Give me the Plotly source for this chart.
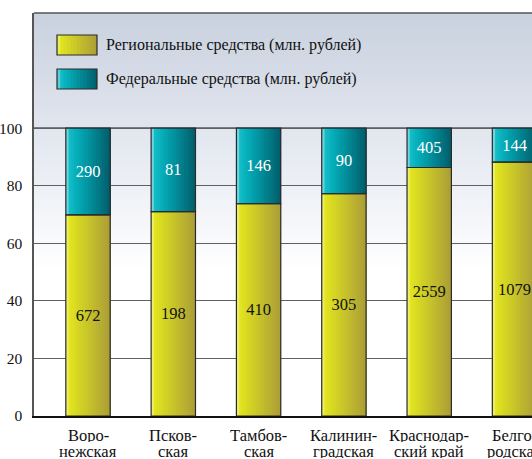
import numpy as np
import plotly.graph_objects as go
from plotly.colors import sample_colorscale

# data
regions = [("Воро-", "нежская"), ("Псков-", "ская"), ("Тамбов-", "ская"),
           ("Калинин-", "градская"), ("Краснодар-", "ский край"), ("Белго-", "родская")]
regional = [672, 198, 410, 305, 2559, 1079]
federal = [290, 81, 146, 90, 405, 144]
y_ticks = [0, 20, 40, 60, 80, 100]
legend_names = ["Региональные средства (млн. рублей)",
                "Федеральные средства (млн. рублей)"]

SERIF = "Liberation Serif"
W = 0.52          # bar width (category units)
N = 16            # gradient strips per bar
PLOT_L, PLOT_T, PLOT_B = 34, 13, 43
FIG_W, FIG_H = 532, 459

reg_scale = [[0.0, "#f2f4a0"], [0.07, "#e4e61e"], [0.3, "#d4d424"], [1.0, "#ab9d38"]]
fed_scale = [[0.0, "#b2e6f0"], [0.07, "#14bec9"], [0.3, "#03a9b5"], [1.0, "#025d6b"]]
bg_scale = [[0.0, "#ffffff"], [0.3, "#eef1f6"], [0.55, "#e1e5ee"], [1.0, "#c8d1de"]]

reg = np.array(regional, dtype=float)
fed = np.array(federal, dtype=float)
total = reg + fed
reg_pct = reg / total * 100
fed_pct = fed / total * 100
xs = np.arange(len(regions))


def px_to_paper(px, py):
    pw = FIG_W - PLOT_L
    ph = FIG_H - PLOT_T - PLOT_B
    return (px - PLOT_L) / pw, (FIG_H - PLOT_B - py) / ph


fig = go.Figure()

# gradient-looking bars built from overlapping strips
for scale, y, base in [(reg_scale, reg_pct, None), (fed_scale, fed_pct, reg_pct)]:
    for i in range(N):
        frac = i / N
        color = sample_colorscale(scale, [(i + 0.5) / N])[0]
        fig.add_trace(
            go.Bar(
                x=xs, y=y, base=base,
                offset=-W / 2 + frac * W,
                width=W * (1 - frac),
                marker=dict(color=color, line=dict(width=0)),
                hoverinfo="skip",
                showlegend=False
            )
        )

# outlines + value labels
for y, base, labels, tcolor in [(reg_pct, None, regional, "#111111"),
                                (fed_pct, reg_pct, federal, "#ffffff")]:
    fig.add_trace(
        go.Bar(
            x=xs, y=y, base=base,
            offset=-W / 2, width=W,
            marker=dict(color="rgba(0,0,0,0)", line=dict(color="#2a2a2a", width=1.2)),
            text=[str(v) for v in labels],
            textposition="inside",
            insidetextanchor="middle",
            textangle=0,
            constraintext="none",
            textfont=dict(family=SERIF, size=16.5, color=tcolor),
            hoverinfo="skip",
            showlegend=False
        )
    )

shapes = []

# panel background gradient
steps = np.arange(50, 140, 1.5)
for v in steps:
    t = (v - 50) / 90
    shapes.append(dict(
        type="rect", xref="paper", yref="y", x0=0, x1=1, y0=v, y1=140,
        fillcolor=sample_colorscale(bg_scale, [t])[0],
        line=dict(width=0), layer="below"
    ))

# 100 line and top border
shapes.append(dict(type="line", xref="paper", yref="y", x0=0, x1=1, y0=100, y1=100,
                   line=dict(color="#151515", width=1.5), layer="between"))
shapes.append(dict(type="line", xref="paper", yref="paper", x0=0, x1=1, y0=1, y1=1,
                   line=dict(color="#555555", width=1.5)))

annotations = []

# category labels, two tight lines each
for i, (line1, line2) in enumerate(regions):
    for text, shift in [(line1, -19), (line2, -35)]:
        annotations.append(dict(
            text=text, xref="x", yref="paper", x=i, y=0, yshift=shift,
            xanchor="center", yanchor="middle", showarrow=False,
            height=14, borderpad=0,
            font=dict(family=SERIF, size=16.5, color="#111111")
        ))

# custom legend
for k, (scale, name) in enumerate([(reg_scale, legend_names[0]), (fed_scale, legend_names[1])]):
    top = 35 + k * 34
    x0p, y1p = px_to_paper(57, top)
    x1p, y0p = px_to_paper(97, top + 20)
    m = 12
    for i in range(m):
        xa = x0p + (x1p - x0p) * i / m
        shapes.append(dict(
            type="rect", xref="paper", yref="paper", x0=xa, x1=x1p, y0=y0p, y1=y1p,
            fillcolor=sample_colorscale(scale, [(i + 0.5) / m])[0], line=dict(width=0)
        ))
    shapes.append(dict(type="rect", xref="paper", yref="paper", x0=x0p, x1=x1p, y0=y0p, y1=y1p,
                       line=dict(color="#2a2a2a", width=1.2)))
    tx, ty = px_to_paper(105, top + 10)
    annotations.append(dict(
        text=name, xref="paper", yref="paper", x=tx, y=ty,
        xanchor="left", yanchor="middle", showarrow=False, borderpad=0,
        font=dict(family=SERIF, size=16, color="#111111")
    ))

fig.update_layout(
    width=FIG_W,
    height=FIG_H,
    margin=dict(l=PLOT_L, r=0, t=PLOT_T, b=PLOT_B),
    barmode="overlay",
    paper_bgcolor="white",
    plot_bgcolor="white",
    font=dict(family=SERIF),
    showlegend=False,
    hovermode=False,
    shapes=shapes,
    annotations=annotations,
    xaxis=dict(
        range=[-0.633, 5.205],
        automargin=False,
        showticklabels=False,
        showgrid=False,
        zeroline=False,
        showline=True,
        linecolor="#111111",
        linewidth=1.5,
        ticks=""
    ),
    yaxis=dict(
        range=[0, 140],
        automargin=False,
        tickvals=y_ticks,
        showgrid=True,
        gridcolor="#606060",
        gridwidth=1.2,
        zeroline=False,
        showline=True,
        linecolor="#555555",
        linewidth=1.5,
        ticks="",
        ticklabelstandoff=7,
        tickfont=dict(family=SERIF, size=15.5, color="#111111")
    )
)

fig.write_html("out.html", config=dict(displayModeBar=False),
               post_script="document.body.style.margin='0';")
